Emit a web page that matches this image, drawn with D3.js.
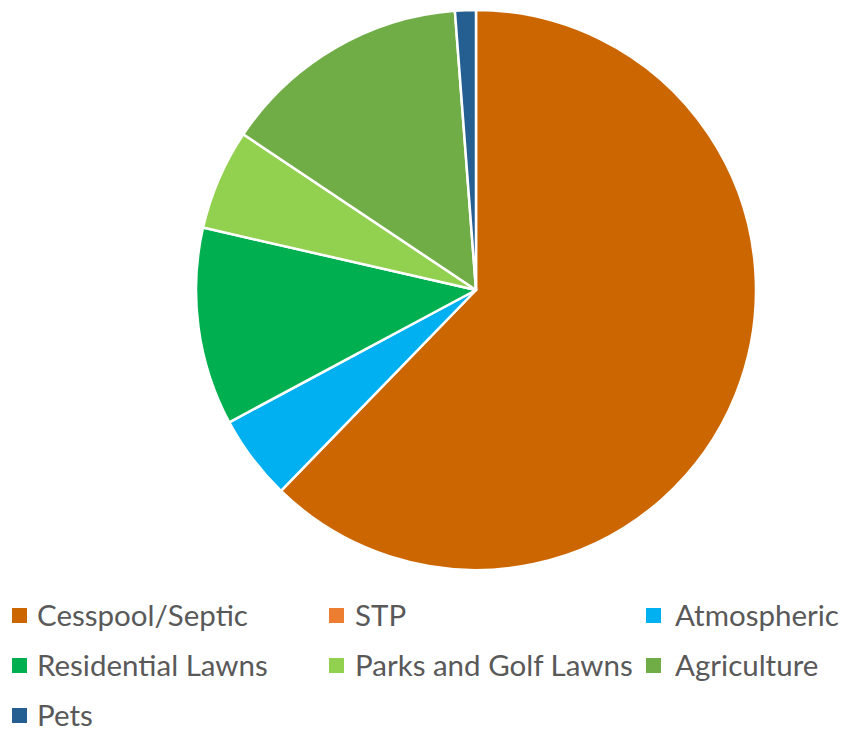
<!DOCTYPE html>
<html><head><meta charset="utf-8">
<script src="https://cdn.jsdelivr.net/npm/d3@7"></script>
<style>body{margin:0;background:#fff}</style>
</head><body>
<svg id="c" width="845" height="732"></svg>
<script>
const categories = ["Cesspool/Septic","STP","Atmospheric","Residential Lawns","Parks and Golf Lawns","Agriculture","Pets"];
const values = [62.2, 0, 4.9, 11.4, 5.8, 14.4, 1.2];
const colors = ["#CC6600","#ED7D31","#00B0F0","#00B050","#92D050","#70AD47","#255E91"];

const svg = d3.select("#c");
const cx = 476, cy = 290, r = 280;
const pie = d3.pie().sort(null).value(d => d.v);
const arc = d3.arc().innerRadius(0).outerRadius(r);
const data = categories.map((c,i)=>({c, v: values[i], col: colors[i]}));
svg.append("g").attr("transform",`translate(${cx},${cy})`)
  .selectAll("path").data(pie(data).filter(d=>d.data.v>0)).join("path")
  .attr("d", arc).attr("fill", d=>d.data.col)
  .attr("stroke","#fff").attr("stroke-width",2.5).attr("stroke-linejoin","round");

const colX = [12, 329, 646];
const textX = [37, 355, 675];
const rowY = [615.5, 665.5, 715.5];
const lg = svg.append("g");
data.forEach((d,i)=>{
  const k = i%3, y = rowY[Math.floor(i/3)];
  lg.append("rect").attr("x",colX[k]).attr("y",y-7.5).attr("width",15).attr("height",15).attr("fill",d.col);
  lg.append("text").attr("x",textX[k]).attr("y",y).attr("dy","0.36em")
    .attr("font-family","Lato, 'Open Sans', sans-serif").attr("font-size",29.5)
    .attr("fill","#595959").text(d.c);
});
</script>
</body></html>
